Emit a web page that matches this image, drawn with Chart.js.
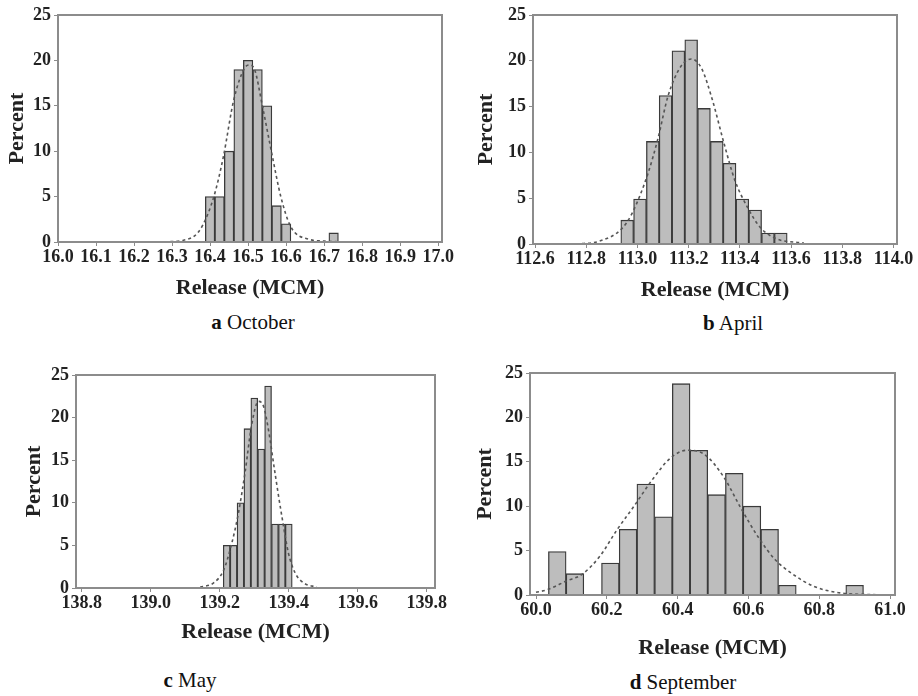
<!DOCTYPE html>
<html>
<head>
<meta charset="utf-8">
<script src="https://cdn.jsdelivr.net/npm/chart.js@4.4.1/dist/chart.umd.min.js"></script>
<style>
body { margin: 0; background: #fff; }
#wrap { position: relative; width: 918px; height: 696px; overflow: hidden; font-family: "Liberation Serif", serif; }
#wrap canvas { position: absolute; }
.cap { position: absolute; font-size: 21px; line-height: 24px; color: #111; white-space: nowrap; transform: translateX(-50%); }
</style>
</head>
<body>
<div id="wrap">
  <canvas id="octChart" width="460" height="302" style="left:0;top:0"></canvas>
  <canvas id="aprChart" width="458" height="304" style="left:460px;top:0"></canvas>
  <canvas id="mayChart" width="460" height="306" style="left:0;top:340px"></canvas>
  <canvas id="sepChart" width="458" height="322" style="left:460px;top:340px"></canvas>
  <div class="cap" style="left:253px;top:310px"><b>a</b> October</div>
  <div class="cap" style="left:733px;top:311px"><b>b</b> April</div>
  <div class="cap" style="left:190px;top:668px"><b>c</b> May</div>
  <div class="cap" style="left:683px;top:670px"><b>d</b> September</div>
</div>
<script>
// a October
const octX = [16.4, 16.425, 16.45, 16.475, 16.5, 16.525, 16.55, 16.575, 16.6, 16.725];
const octPct = [5, 5, 10, 19, 20, 19, 15, 4, 2, 1];
const octFitX = [16.28, 16.33, 16.36, 16.38, 16.41, 16.435, 16.462, 16.49, 16.503, 16.516, 16.538, 16.564, 16.586, 16.612, 16.66, 16.7, 16.76];
const octFitY = [0, 0.2, 0.7, 1.8, 5, 9.4, 15.6, 19.1, 19.5, 19.1, 14.9, 9.4, 5, 1.7, 0.3, 0.1, 0];
const octTicks = [16.0, 16.1, 16.2, 16.3, 16.4, 16.5, 16.6, 16.7, 16.8, 16.9, 17.0];

// b April
const aprX = [112.96, 113.01, 113.06, 113.11, 113.16, 113.21, 113.26, 113.31, 113.36, 113.41, 113.46, 113.51, 113.56];
const aprPct = [2.6, 4.9, 11.2, 16.2, 21.1, 22.3, 14.8, 11.2, 8.8, 4.9, 3.7, 1.2, 1.2];
const aprFitX = [112.76, 112.85, 112.94, 112.98, 113.04, 113.08, 113.12, 113.17, 113.21, 113.25, 113.29, 113.34, 113.38, 113.43, 113.48, 113.54, 113.65];
const aprFitY = [0, 0.3, 1.7, 3.4, 7.6, 11.5, 16.2, 19.4, 20.2, 19.2, 16.0, 10.8, 7.0, 4.0, 1.8, 0.6, 0.1];
const aprTicks = [112.6, 112.8, 113.0, 113.2, 113.4, 113.6, 113.8, 114.0];

// c May
const mayX = [139.22, 139.24, 139.26, 139.28, 139.30, 139.32, 139.34, 139.36, 139.38, 139.40];
const mayPct = [5, 5, 10, 18.7, 22.3, 16.3, 23.7, 7.5, 7.5, 7.5];
const mayFitX = [139.143, 139.182, 139.211, 139.235, 139.254, 139.273, 139.293, 139.312, 139.327, 139.341, 139.36, 139.38, 139.399, 139.418, 139.443, 139.481];
const mayFitY = [0.1, 0.6, 2.1, 5.3, 8.8, 13.5, 19.3, 21.9, 21.3, 18.6, 13.5, 8.4, 4.1, 1.8, 0.6, 0.1];
const mayTicks = [138.8, 139.0, 139.2, 139.4, 139.6, 139.8];

// d September
const sepX = [60.06, 60.11, 60.16, 60.21, 60.26, 60.31, 60.36, 60.41, 60.46, 60.51, 60.56, 60.61, 60.66, 60.71, 60.9];
const sepPct = [4.9, 2.4, 0, 3.6, 7.4, 12.5, 8.8, 23.8, 16.3, 11.3, 13.7, 10.0, 7.4, 1.1, 1.1];
const sepFitX = [60.0, 60.032, 60.087, 60.129, 60.181, 60.228, 60.275, 60.327, 60.379, 60.426, 60.473, 60.53, 60.577, 60.628, 60.675, 60.727, 60.783, 60.849, 60.98];
const sepFitY = [0.3, 0.6, 1.6, 2.3, 4.4, 7.3, 9.9, 12.9, 15.4, 16.3, 15.9, 13.3, 9.9, 6.5, 4.0, 2.3, 1.0, 0.3, 0];
const sepTicks = [60.0, 60.2, 60.4, 60.6, 60.8, 61.0];

const yTicks = [0, 5, 10, 15, 20, 25];

const serif = 'Liberation Serif';
Chart.defaults.font.family = serif;
const tickFont = { family: serif, size: 18, weight: 'bold' };
const titleFont = { family: serif, size: 22, weight: 'bold' };
const axisGray = '#8c8c8c';

// 枠線（上と右も含めて）
const boxPlugin = {
    id: 'box',
    afterDraw(chart) {
        const { ctx, chartArea: a } = chart;
        ctx.save();
        ctx.strokeStyle = axisGray;
        ctx.lineWidth = 2;
        ctx.strokeRect(a.left, a.top, a.right - a.left, a.bottom - a.top);
        ctx.restore();
    }
};

function makePanel(id, o) {
    new Chart(document.getElementById(id), {
        type: 'bar',
        data: {
            datasets: [
                {
                    type: 'line',
                    data: o.fitX.map((x, i) => ({ x: x, y: o.fitY[i] })),
                    borderColor: '#555',
                    borderWidth: 1.6,
                    borderDash: [3, 3],
                    pointRadius: 0,
                    tension: 0.4,
                    cubicInterpolationMode: 'monotone',
                    order: 0
                },
                {
                    data: o.x.map((x, i) => ({ x: x, y: o.pct[i] })),
                    backgroundColor: '#bdbdbd',
                    borderColor: '#3a3a3a',
                    borderWidth: 1.3,
                    barPercentage: 1,
                    categoryPercentage: 1,
                    order: 1
                }
            ]
        },
        options: {
            responsive: false,
            animation: false,
            layout: { padding: o.pad },
            plugins: { legend: { display: false }, tooltip: { enabled: false } },
            scales: {
                x: {
                    type: 'linear',
                    min: o.min,
                    max: o.max,
                    offset: false,
                    afterBuildTicks: s => { s.ticks = o.ticks.map(v => ({ value: v })); },
                    afterFit: s => { s.height = o.xh; },
                    ticks: { font: tickFont, color: '#222', padding: 1, maxRotation: 0, autoSkip: false, callback: v => v.toFixed(1) },
                    grid: { drawOnChartArea: false, offset: false, tickLength: 4, color: axisGray },
                    border: { color: axisGray, width: 2 },
                    title: { display: true, text: 'Release (MCM)', font: titleFont, color: '#222', padding: { top: 0, bottom: 0 } }
                },
                y: {
                    min: 0,
                    max: 25,
                    afterBuildTicks: s => { s.ticks = yTicks.map(v => ({ value: v })); },
                    afterFit: s => { s.width = o.yw; },
                    ticks: { font: tickFont, color: '#222', padding: 3 },
                    grid: { drawOnChartArea: false, tickLength: 4, color: axisGray },
                    border: { color: axisGray, width: 2 },
                    title: { display: true, text: 'Percent', font: titleFont, color: '#222', padding: { top: o.yt, bottom: 0 } }
                }
            }
        },
        plugins: [boxPlugin]
    });
}

function drawAll() {
    makePanel('octChart', { x: octX, pct: octPct, fitX: octFitX, fitY: octFitY, ticks: octTicks,
        min: 16.0, max: 17.01, pad: { top: 15, right: 18, left: 0, bottom: 0 }, yw: 58, xh: 60, yt: 4 });
    makePanel('aprChart', { x: aprX, pct: aprPct, fitX: aprFitX, fitY: aprFitY, ticks: aprTicks,
        min: 112.592, max: 114.014, pad: { top: 15, right: 21, left: 0, bottom: 0 }, yw: 73, xh: 60, yt: 13 });
    makePanel('mayChart', { x: mayX, pct: mayPct, fitX: mayFitX, fitY: mayFitY, ticks: mayTicks,
        min: 138.783, max: 139.824, pad: { top: 35, right: 25, left: 0, bottom: 0 }, yw: 76, xh: 58, yt: 21 });
    makePanel('sepChart', { x: sepX, pct: sepPct, fitX: sepFitX, fitY: sepFitY, ticks: sepTicks,
        min: 59.983, max: 61.014, pad: { top: 33, right: 23, left: 0, bottom: 0 }, yw: 70, xh: 67, yt: 12 });
}

Promise.all([
    document.fonts.load('bold 18px "Liberation Serif"'),
    document.fonts.load('bold 22px "Liberation Serif"')
]).then(drawAll, drawAll);
</script>
</body>
</html>
